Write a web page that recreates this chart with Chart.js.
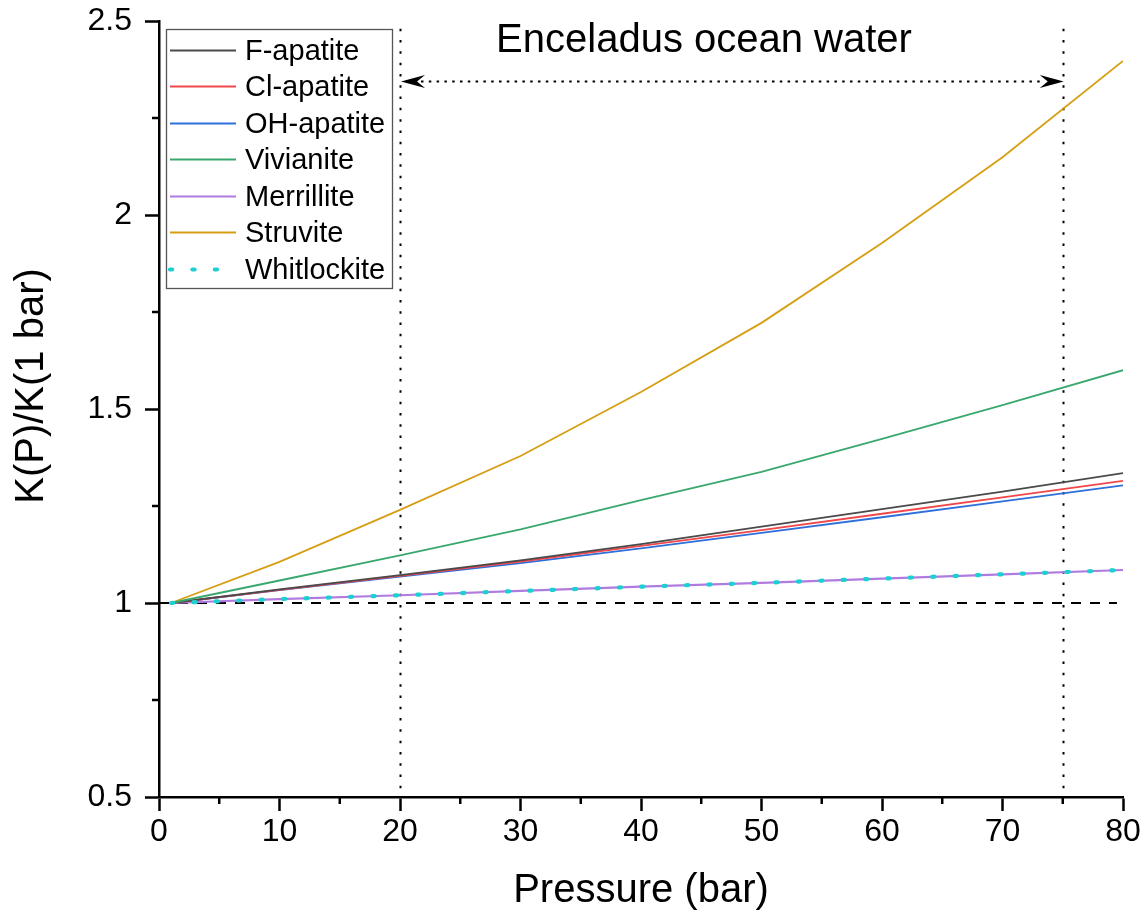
<!DOCTYPE html>
<html>
<head>
<meta charset="utf-8">
<title>K(P)/K(1 bar) vs pressure</title>
<script src="https://cdn.jsdelivr.net/npm/chart.js@4/dist/chart.umd.min.js"></script>
<style>
  html, body { margin: 0; padding: 0; background: #ffffff; }
  #wrap { width: 1148px; height: 919px; }
</style>
</head>
<body>
<div id="wrap"><canvas id="chart" width="1148" height="919"></canvas></div>
<script>
// Pressure grid (bar)
const pressure = [1, 10, 20, 30, 40, 50, 60, 70, 80];

// Equilibrium constant ratio K(P)/K(1 bar) for each phosphate mineral
const fApatite    = [1, 1.035, 1.072, 1.110, 1.152, 1.197, 1.242, 1.287, 1.335];
const clApatite   = [1, 1.034, 1.070, 1.107, 1.147, 1.188, 1.230, 1.272, 1.315];
const ohApatite   = [1, 1.033, 1.068, 1.103, 1.141, 1.181, 1.221, 1.262, 1.303];
const vivianite   = [1, 1.058, 1.123, 1.190, 1.265, 1.338, 1.423, 1.510, 1.600];
const merrillite  = [1, 1.010, 1.020, 1.031, 1.042, 1.052, 1.063, 1.074, 1.085];
const struvite    = [1, 1.106, 1.240, 1.379, 1.544, 1.722, 1.928, 2.149, 2.397];
const whitlockite = [1, 1.010, 1.020, 1.031, 1.042, 1.052, 1.063, 1.074, 1.085];

// Axis ticks
const xTicks = [0, 10, 20, 30, 40, 50, 60, 70, 80];
const xMinorTicks = [5, 15, 25, 35, 45, 55, 65, 75];
const yTicks = [0.5, 1, 1.5, 2, 2.5];
const yMinorTicks = [0.75, 1.25, 1.75, 2.25];

// Enceladus ocean pressure range (bar) and reference ratio
const oceanRange = [20, 75];
const oceanArrowLevel = 2.346;
const referenceRatio = 1;
const referenceEnd = 79.5;

const FONT = "'Liberation Sans', Arial, Helvetica, sans-serif";

function toPoints(values) {
  return values.map((v, i) => ({ x: pressure[i], y: v }));
}

function series(label, values, color, extra) {
  return Object.assign({
    label: label,
    data: toPoints(values),
    borderColor: color,
    backgroundColor: color,
    borderWidth: 1.8,
    pointRadius: 0,
    tension: 0,
    fill: false,
    order: 2
  }, extra || {});
}

const datasets = [
  series('F-apatite', fApatite, '#4a4a4a', { order: 3 }),
  series('Cl-apatite', clApatite, '#f0474a', { order: 4 }),
  series('OH-apatite', ohApatite, '#2e6fd9', { order: 5 }),
  series('Vivianite', vivianite, '#3aa86e'),
  series('Merrillite', merrillite, '#b07be0', { borderWidth: 2.2, order: 6 }),
  series('Struvite', struvite, '#d69e12'),
  series('Whitlockite', whitlockite, '#1ccfd0', {
    borderWidth: 4.2, borderDash: [2.2, 20.2], borderCapStyle: 'round', order: 0
  })
];

// Fixed axis boxes so the plot frame sits where it should
function fixBox(s, size) {
  if (s.isHorizontal()) s.height = size; else s.width = size;
  s.paddingTop = 0; s.paddingBottom = 0; s.paddingLeft = 0; s.paddingRight = 0;
}

// Minor ticks, reference lines, range arrow, titles and the framed legend
const decorations = {
  id: 'decorations',
  beforeDatasetsDraw(chart) {
    const ctx = chart.ctx;
    const xs = chart.scales.x, ys = chart.scales.y;
    const ca = chart.chartArea;
    ctx.save();
    ctx.beginPath();
    ctx.rect(ca.left, ca.top - 2, ca.right - ca.left + 2, ca.bottom - ca.top + 2);
    ctx.clip();
    // dashed reference at K(P)/K(1 bar) = 1
    ctx.strokeStyle = '#000';
    ctx.lineWidth = 2;
    ctx.setLineDash([10, 9]);
    ctx.beginPath();
    ctx.moveTo(xs.getPixelForValue(0), ys.getPixelForValue(referenceRatio));
    ctx.lineTo(xs.getPixelForValue(referenceEnd), ys.getPixelForValue(referenceRatio));
    ctx.stroke();
    // dotted verticals bounding the ocean pressure range
    ctx.setLineDash([2.5, 8.8]);
    oceanRange.forEach(p => {
      const px = Math.round(xs.getPixelForValue(p)) + 0.5;
      ctx.beginPath();
      ctx.moveTo(px, ys.getPixelForValue(2.48));
      ctx.lineTo(px, ys.getPixelForValue(0.5));
      ctx.stroke();
    });
    ctx.restore();
  },
  afterDraw(chart) {
    const ctx = chart.ctx;
    const xs = chart.scales.x, ys = chart.scales.y;
    const ca = chart.chartArea;
    ctx.save();
    // minor ticks
    ctx.strokeStyle = '#000';
    ctx.lineWidth = 2.5;
    yMinorTicks.forEach(v => {
      const py = ys.getPixelForValue(v);
      ctx.beginPath();
      ctx.moveTo(ca.left - 7, py);
      ctx.lineTo(ca.left, py);
      ctx.stroke();
    });
    xMinorTicks.forEach(v => {
      const px = xs.getPixelForValue(v);
      ctx.beginPath();
      ctx.moveTo(px, ca.bottom);
      ctx.lineTo(px, ca.bottom + 7);
      ctx.stroke();
    });

    // double-headed dotted arrow across the range
    const ay = Math.round(ys.getPixelForValue(oceanArrowLevel)) + 0.5;
    const x1 = xs.getPixelForValue(oceanRange[0]) + 1;
    const x2 = xs.getPixelForValue(oceanRange[1]) + 1;
    ctx.lineWidth = 2;
    ctx.setLineDash([2.5, 5.3]);
    ctx.beginPath();
    ctx.moveTo(x1 + 20, ay);
    ctx.lineTo(x2 - 20, ay);
    ctx.stroke();
    ctx.setLineDash([]);
    ctx.fillStyle = '#000';
    function head(tipX, dir) {
      ctx.beginPath();
      ctx.moveTo(tipX, ay);
      ctx.lineTo(tipX - dir * 24, ay - 6.5);
      ctx.lineTo(tipX - dir * 16, ay);
      ctx.lineTo(tipX - dir * 24, ay + 6.5);
      ctx.closePath();
      ctx.fill();
    }
    head(x1, -1);
    head(x2, 1);

    // range label
    ctx.fillStyle = '#000';
    ctx.font = '40px ' + FONT;
    ctx.textAlign = 'center';
    ctx.textBaseline = 'alphabetic';
    ctx.fillText('Enceladus ocean water', 704, 52);

    // y axis title
    ctx.save();
    ctx.translate(43, 386);
    ctx.rotate(-Math.PI / 2);
    ctx.font = '40px ' + FONT;
    ctx.textAlign = 'center';
    ctx.textBaseline = 'alphabetic';
    ctx.fillText('K(P)/K(1 bar)', 0, 0);
    ctx.restore();

    // legend box
    const lx = 166, ly = 29, lw = 226, lh = 259;
    ctx.fillStyle = '#ffffff';
    ctx.fillRect(lx, ly, lw, lh);
    ctx.strokeStyle = '#555';
    ctx.lineWidth = 1.3;
    ctx.strokeRect(lx + 0.5, ly + 0.5, lw, lh);
    ctx.font = '29px ' + FONT;
    ctx.textAlign = 'left';
    ctx.textBaseline = 'middle';
    chart.data.datasets.forEach((ds, i) => {
      const ry = Math.round(49.5 + i * 36.5) + 0.5;
      ctx.save();
      ctx.strokeStyle = ds.borderColor;
      ctx.lineWidth = ds.borderWidth;
      ctx.lineCap = ds.borderCapStyle || 'butt';
      ctx.setLineDash(ds.borderDash || []);
      ctx.beginPath();
      ctx.moveTo(170, ry);
      ctx.lineTo(236, ry);
      ctx.stroke();
      ctx.restore();
      ctx.fillStyle = '#000';
      ctx.fillText(ds.label, 245, ry + 1);
    });
    ctx.restore();
  }
};

new Chart(document.getElementById('chart'), {
  type: 'line',
  data: { datasets: datasets },
  options: {
    responsive: false,
    devicePixelRatio: 1,
    animation: false,
    events: [],
    layout: { padding: { top: 21, right: 25, bottom: 0, left: 0 } },
    plugins: { legend: { display: false }, tooltip: { enabled: false }, title: { display: false } },
    scales: {
      x: {
        type: 'linear',
        min: 0,
        max: 80,
        afterBuildTicks: s => { s.ticks = xTicks.map(v => ({ value: v })); },
        afterFit: s => fixBox(s, 122),
        ticks: {
          color: '#000',
          padding: 2,
          maxRotation: 0,
          font: { family: FONT, size: 32 },
          callback: v => String(v)
        },
        grid: {
          drawOnChartArea: false,
          drawTicks: true,
          tickLength: 14,
          tickWidth: 2.5,
          tickColor: '#000'
        },
        border: { display: true, color: '#000', width: 2.5 },
        title: {
          display: true,
          text: 'Pressure (bar)',
          color: '#000',
          font: { family: FONT, size: 40 },
          padding: { top: 0, bottom: 4 }
        }
      },
      y: {
        type: 'linear',
        min: 0.5,
        max: 2.5,
        afterBuildTicks: s => { s.ticks = yTicks.map(v => ({ value: v })); },
        afterFit: s => fixBox(s, 159),
        ticks: {
          color: '#000',
          padding: 13,
          font: { family: FONT, size: 32 },
          callback: v => String(v)
        },
        grid: {
          drawOnChartArea: false,
          drawTicks: true,
          tickLength: 14,
          tickWidth: 2.5,
          tickColor: '#000'
        },
        border: { display: true, color: '#000', width: 2.5 }
      }
    }
  },
  plugins: [decorations]
});
</script>
</body>
</html>
